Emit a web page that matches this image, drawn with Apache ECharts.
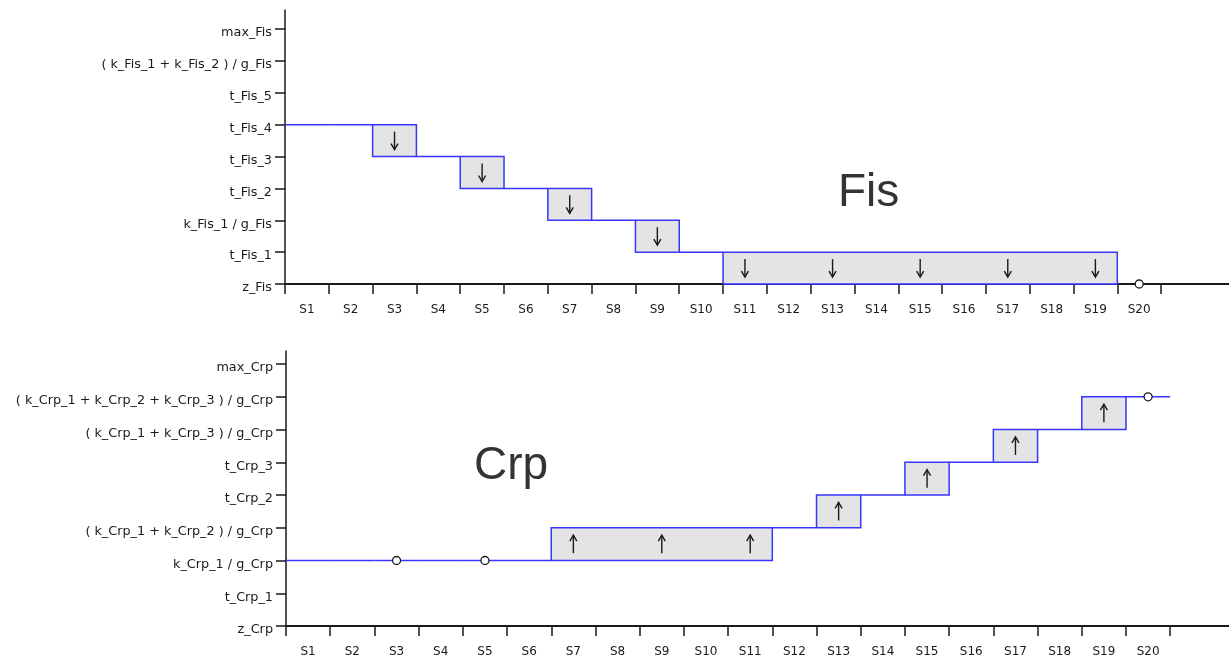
<!DOCTYPE html>
<html>
<head>
<meta charset="utf-8">
<script src="https://cdn.jsdelivr.net/npm/echarts@6/dist/echarts.min.js"></script>
<style>
  html, body { margin: 0; padding: 0; background: #fff; }
  #chart { width: 1229px; height: 661px; }
</style>
</head>
<body>
<div id="chart"></div>
<script>
var categories = ['S1','S2','S3','S4','S5','S6','S7','S8','S9','S10',
                  'S11','S12','S13','S14','S15','S16','S17','S18','S19','S20'];

var fisLevels = ['z_Fis', 't_Fis_1', 'k_Fis_1 / g_Fis', 't_Fis_2', 't_Fis_3', 't_Fis_4',
                 't_Fis_5', '( k_Fis_1 + k_Fis_2 ) / g_Fis', 'max_Fis'];
var crpLevels = ['z_Crp', 't_Crp_1', 'k_Crp_1 / g_Crp', '( k_Crp_1 + k_Crp_2 ) / g_Crp', 't_Crp_2',
                 't_Crp_3', '( k_Crp_1 + k_Crp_3 ) / g_Crp', '( k_Crp_1 + k_Crp_2 + k_Crp_3 ) / g_Crp', 'max_Crp'];

// level at start / end of each state (index into the level list)
var fisFrom = [5,5,5,4,4,3,3,2,2,1,1,1,1,1,1,1,1,1,1,0];
var fisTo   = [5,5,4,4,3,3,2,2,1,1,0,0,0,0,0,0,0,0,0,0];
var fisMark = ['','','down','','down','','down','','down','','down','','down','','down','','down','','down','o'];

var crpFrom = [2,2,2,2,2,2,2,2,2,2,2,3,3,4,4,5,5,6,6,7];
var crpTo   = [2,2,2,2,2,2,3,3,3,3,3,3,4,4,5,5,6,6,7,7];
var crpMark = ['','','o','','o','','up','','up','','up','','up','','up','','up','','up','o'];

var blue = '#3636ff';
var ink = '#1a1a1a';
var labelFont = 'DejaVu Sans';

function range(n, off) {
    var out = [];
    for (var i = 0; i < n; i++) out.push(i + off);
    return out;
}

function makeRender(from, to, mark) {
    function same(a, b) {
	return b >= 0 && b < from.length && from[a] === from[b] && to[a] === to[b];
    }
    return function (params, api) {
	var i = api.value(0);
	var x0 = api.coord([i, 0])[0];
	var x1 = api.coord([i + 1, 0])[0];
	var yFrom = api.coord([0, from[i]])[1];
	var yTo = api.coord([0, to[i]])[1];
	var xm = (x0 + x1) / 2;
	var kids = [];
	var lineStyle = { stroke: blue, lineWidth: 1.5 };
	if (from[i] !== to[i]) {
	    // draw the whole run of equal transitions once, at its first state
	    if (!same(i, i - 1)) {
		var j = i;
		while (same(i, j + 1)) j++;
		var xe = api.coord([j + 1, 0])[0];
		var top = Math.min(yFrom, yTo), bot = Math.max(yFrom, yTo);
		kids.push({ type: 'rect', shape: { x: x0, y: top, width: xe - x0, height: bot - top },
			    style: { fill: '#e4e4e4', stroke: blue, lineWidth: 1.5 } });
	    }
	} else if (from[i] > 0) {
	    kids.push({ type: 'line', shape: { x1: x0, y1: yFrom, x2: x1, y2: yFrom }, style: lineStyle });
	}
	var m = mark[i];
	if (m === 'down' || m === 'up') {
	    var yc = (yFrom + yTo) / 2;
	    var half = 9;
	    var tip = m === 'down' ? yc + half : yc - half;
	    var dir = m === 'down' ? -1 : 1;
	    var arrowStyle = { stroke: ink, lineWidth: 1.4, fill: null };
	    kids.push({ type: 'line', shape: { x1: xm, y1: yc - half, x2: xm, y2: yc + half }, style: arrowStyle });
	    kids.push({ type: 'polyline', shape: { points: [[xm - 3.5, tip + dir * 6], [xm, tip], [xm + 3.5, tip + dir * 6]] },
			style: arrowStyle });
	} else if (m === 'o') {
	    kids.push({ type: 'circle', shape: { cx: xm, cy: yFrom, r: 4 },
			style: { stroke: ink, lineWidth: 1.3, fill: '#fff' } });
	}
	return { type: 'group', children: kids };
    };
}

function xAxisFor(gridIndex, max) {
    return {
	gridIndex: gridIndex,
	type: 'value',
	min: 0,
	max: max,
	splitLine: { show: false },
	axisLine: { show: true, lineStyle: { color: ink, width: 2 } },
	axisTick: { show: true, length: 10, customValues: range(21, 0), lineStyle: { color: ink, width: 1.5 } },
	axisLabel: {
	    customValues: range(20, 0.5),
	    margin: 20,
	    fontFamily: labelFont,
	    fontSize: 12,
	    color: ink,
	    formatter: function (v) { return categories[Math.round(v - 0.5)]; }
	}
    };
}

function yAxisFor(gridIndex, max, levels) {
    return {
	gridIndex: gridIndex,
	type: 'value',
	min: 0,
	max: max,
	splitLine: { show: false },
	axisLine: { show: true, lineStyle: { color: ink, width: 1.5 } },
	axisTick: { show: true, length: 10, customValues: range(9, 0), lineStyle: { color: ink, width: 1.5 } },
	axisLabel: {
	    customValues: range(9, 0),
	    margin: 13,
	    verticalAlign: 'top',
	    lineHeight: 8,
	    fontFamily: labelFont,
	    fontSize: 12.8,
	    color: ink,
	    formatter: function (v) { return levels[Math.round(v)]; }
	}
    };
}

var chart = echarts.init(document.getElementById('chart'));

chart.setOption({
    animation: false,
    grid: [
	{ left: 285, right: 0, top: 10, height: 274 },
	{ left: 286, right: 0, top: 351, height: 275 }
    ],
    xAxis: [xAxisFor(0, 21.55), xAxisFor(1, 21.33)],
    yAxis: [yAxisFor(0, 8.6, fisLevels), yAxisFor(1, 8.4, crpLevels)],
    graphic: [
	{ type: 'text', left: 838, top: 170, style: { text: 'Fis', font: '46px "Liberation Sans"', fill: '#333' } },
	{ type: 'text', left: 474, top: 443, style: { text: 'Crp', font: '46px "Liberation Sans"', fill: '#333' } }
    ],
    series: [
	{
	    type: 'custom',
	    xAxisIndex: 0,
	    yAxisIndex: 0,
	    clip: false,
	    renderItem: makeRender(fisFrom, fisTo, fisMark),
	    data: categories.map(function (c, i) { return [i, fisFrom[i], fisTo[i]]; }),
	    encode: { x: 0, y: [1, 2] }
	},
	{
	    type: 'custom',
	    xAxisIndex: 1,
	    yAxisIndex: 1,
	    clip: false,
	    renderItem: makeRender(crpFrom, crpTo, crpMark),
	    data: categories.map(function (c, i) { return [i, crpFrom[i], crpTo[i]]; }),
	    encode: { x: 0, y: [1, 2] }
	}
    ]
});
</script>
</body>
</html>
